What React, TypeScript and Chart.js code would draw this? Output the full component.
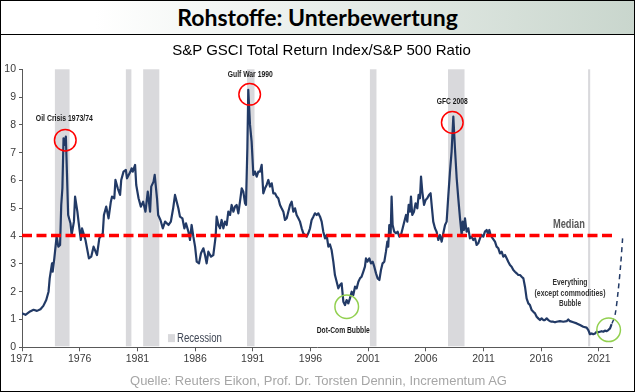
import { useEffect, useRef } from "react";
import { Chart, registerables } from "chart.js";

Chart.register(...registerables);

// ---------- DATA ----------
const years = [
  1971.0, 1971.3, 1971.7, 1972.0, 1972.3, 1972.6, 1972.85, 1973.1, 1973.3, 1973.4,
  1973.6, 1973.66, 1973.8, 1974.0, 1974.15, 1974.3, 1974.4, 1974.5, 1974.6, 1974.7,
  1974.8, 1974.9, 1975.0, 1975.2, 1975.3, 1975.5, 1975.6, 1975.8, 1975.9, 1976.1,
  1976.2, 1976.5, 1976.8, 1977.0, 1977.2, 1977.5, 1977.7, 1978.0, 1978.1, 1978.3,
  1978.5, 1978.7, 1978.8, 1979.0, 1979.1, 1979.3, 1979.5, 1979.6, 1979.8, 1980.0,
  1980.1, 1980.4, 1980.5, 1980.6, 1980.8, 1980.9, 1981.1, 1981.3, 1981.5, 1981.7,
  1981.9, 1982.1, 1982.2, 1982.4, 1982.5, 1982.7, 1982.8, 1983.0, 1983.2, 1983.4,
  1983.7, 1983.9, 1984.1, 1984.26, 1984.55, 1984.69, 1984.9, 1985.07, 1985.21, 1985.42,
  1985.56, 1985.7, 1985.85, 1986.0, 1986.14, 1986.34, 1986.51, 1986.72, 1986.86, 1987.0,
  1987.15, 1987.38, 1987.58, 1987.78, 1987.87, 1988.02, 1988.16, 1988.3, 1988.45, 1988.59,
  1988.74, 1988.88, 1989.03, 1989.17, 1989.32, 1989.46, 1989.6, 1989.75, 1989.89, 1990.04,
  1990.18, 1990.33, 1990.41, 1990.53, 1990.61, 1990.76, 1990.9, 1991.05, 1991.19, 1991.34,
  1991.48, 1991.63, 1991.77, 1991.91, 1992.06, 1992.2, 1992.35, 1992.49, 1992.64, 1992.78,
  1992.93, 1993.07, 1993.21, 1993.36, 1993.5, 1993.65, 1993.79, 1993.94, 1994.08, 1994.23,
  1994.37, 1994.51, 1994.66, 1994.8, 1994.95, 1995.09, 1995.24, 1995.38, 1995.53, 1995.67,
  1995.81, 1995.96, 1996.1, 1996.25, 1996.39, 1996.54, 1996.68, 1996.83, 1996.97, 1997.11,
  1997.26, 1997.4, 1997.55, 1997.69, 1997.83, 1997.98, 1998.12, 1998.27, 1998.41, 1998.56,
  1998.7, 1998.85, 1998.99, 1999.13, 1999.28, 1999.42, 1999.57, 1999.71, 1999.86, 2000.0,
  2000.15, 2000.29, 2000.43, 2000.58, 2000.72, 2000.81, 2000.93, 2001.1, 2001.24, 2001.39,
  2001.53, 2001.68, 2001.82, 2001.97, 2002.11, 2002.25, 2002.4, 2002.54, 2002.66, 2002.74,
  2002.83, 2002.95, 2003.03, 2003.12, 2003.26, 2003.41, 2003.55, 2003.7, 2003.84, 2003.99,
  2004.13, 2004.28, 2004.39, 2004.51, 2004.62, 2004.71, 2004.82, 2004.97, 2005.11, 2005.26,
  2005.37, 2005.49, 2005.58, 2005.69, 2005.84, 2005.98, 2006.12, 2006.27, 2006.41, 2006.53,
  2006.64, 2006.79, 2006.93, 2007.08, 2007.22, 2007.37, 2007.51, 2007.66, 2007.8, 2007.94,
  2008.09, 2008.23, 2008.38, 2008.52, 2008.67, 2008.81, 2008.96, 2009.1, 2009.19, 2009.3,
  2009.39, 2009.53, 2009.68, 2009.82, 2009.97, 2010.11, 2010.26, 2010.4, 2010.54, 2010.69,
  2010.83, 2010.98, 2011.12, 2011.27, 2011.41, 2011.5, 2011.61, 2011.79, 2011.99, 2012.13,
  2012.28, 2012.42, 2012.57, 2012.71, 2012.86, 2013.0, 2013.14, 2013.29, 2013.43, 2013.58,
  2013.72, 2013.87, 2014.01, 2014.16, 2014.3, 2014.45, 2014.59, 2014.73, 2014.88, 2015.02,
  2015.17, 2015.31, 2015.46, 2015.6, 2015.74, 2015.89, 2016.03, 2016.18, 2016.32, 2016.47,
  2016.61, 2016.76, 2016.9, 2017.04, 2017.19, 2017.33, 2017.62, 2017.91, 2018.2, 2018.34,
  2018.49, 2018.78, 2019.07, 2019.36, 2019.64, 2019.93, 2020.08, 2020.22, 2020.37, 2020.51,
  2020.66, 2020.8, 2020.94, 2021.09, 2021.23, 2021.38, 2021.52, 2021.67, 2021.81, 2021.96,
  2022.1,
];

const ratio = [
  1.22, 1.17, 1.29, 1.35, 1.31, 1.37, 1.49, 1.7, 2.0, 2.48,
  3.02, 2.72, 3.2, 3.98, 3.62, 3.68, 5.12, 5.72, 7.52, 7.28,
  7.58, 6.2, 4.76, 4.46, 4.04, 4.52, 5.42, 4.88, 4.52, 3.86,
  4.28, 3.86, 3.2, 3.26, 3.62, 3.32, 3.92, 4.1, 4.76, 5.06,
  4.64, 5.24, 5.42, 5.36, 6.02, 5.72, 5.48, 6.02, 6.32, 6.38,
  6.08, 6.32, 6.44, 6.32, 6.56, 5.84, 5.36, 5.06, 5.24, 4.88,
  5.6, 4.88, 5.78, 5.96, 6.2, 5.36, 4.76, 4.58, 4.28, 4.52,
  4.4, 4.52, 5.0, 5.48, 5.0, 4.7, 4.64, 4.28, 4.46, 4.16,
  3.86, 4.4, 3.98, 3.62, 3.08, 3.02, 3.38, 3.56, 3.32, 3.02,
  3.44, 3.26, 3.32, 3.98, 4.7, 4.4, 4.28, 4.58, 4.28, 4.52,
  4.4, 4.88, 4.76, 5.12, 4.88, 5.06, 5.12, 4.82, 5.24, 5.72,
  5.6, 5.18, 5.12, 7.16, 9.26, 8.0, 7.4, 6.2, 6.32, 6.14,
  6.32, 6.32, 6.56, 5.54, 5.72, 5.84, 6.02, 5.78, 5.9, 5.54,
  5.54, 5.42, 5.36, 5.12, 5.0, 4.88, 4.58, 4.64, 4.88, 5.12,
  5.24, 4.88, 5.0, 4.76, 4.64, 4.52, 4.28, 4.1, 4.04, 3.98,
  4.1, 4.28, 4.58, 4.7, 4.82, 4.76, 4.82, 4.7, 4.52, 4.16,
  3.92, 4.04, 3.62, 3.7, 3.5, 3.08, 2.6, 2.36, 2.12, 2.24,
  2.3, 1.64, 1.52, 1.7, 1.58, 1.76, 2.0, 1.88, 2.18, 2.12,
  2.36, 2.48, 2.54, 2.72, 2.9, 3.2, 3.08, 3.2, 3.02, 3.08,
  2.9, 2.66, 2.48, 2.42, 2.78, 3.02, 3.08, 3.44, 3.8, 3.62,
  4.4, 4.1, 5.42, 4.4, 4.16, 4.1, 4.16, 3.98, 4.04, 4.28,
  4.52, 4.76, 4.52, 5.12, 4.88, 5.42, 4.76, 4.88, 5.18, 5.0,
  5.48, 5.36, 6.14, 5.6, 5.12, 5.3, 5.36, 5.48, 5.54, 5.0,
  4.52, 4.28, 4.16, 3.86, 4.04, 3.8, 4.1, 4.4, 4.52, 5.42,
  6.32, 7.04, 8.3, 7.16, 6.08, 5.36, 4.64, 4.04, 4.52, 4.22,
  4.64, 4.16, 4.28, 3.92, 3.98, 3.86, 3.92, 3.68, 3.74, 3.92,
  4.04, 3.98, 4.16, 4.22, 4.04, 4.22, 4.04, 3.92, 3.8, 3.62,
  3.56, 3.38, 3.44, 3.26, 3.32, 3.2, 3.08, 2.96, 2.9, 2.78,
  2.72, 2.66, 2.6, 2.6, 2.54, 2.48, 2.18, 1.76, 1.58, 1.52,
  1.34, 1.28, 1.22, 1.1, 1.04, 0.98, 1.04, 0.98, 0.98, 1.04,
  0.98, 0.94, 0.92, 0.92, 0.9, 0.92, 0.94, 0.92, 0.94, 1.0,
  0.94, 0.9, 0.86, 0.8, 0.74, 0.71, 0.62, 0.47, 0.5, 0.47,
  0.5, 0.56, 0.54, 0.56, 0.58, 0.56, 0.6, 0.58, 0.62, 0.68,
  0.83,
];

const projectionYears = [2022.1, 2022.39, 2022.67, 2022.88, 2023.05];
const projectionValues = [0.83, 1.15, 2.05, 2.96, 3.92];

const medianValue = 4.02;

const recessionStart = [1973.85, 1980.0, 1981.5, 1990.5, 2001.15, 2007.92, 2020.06];
const recessionEnd = [1975.12, 1980.48, 1982.9, 1991.15, 2001.72, 2009.35, 2020.24];

const xTickYears = [1971, 1976, 1981, 1986, 1991, 1996, 2001, 2006, 2011, 2016, 2021];
const yTickValues = [0, 1, 2, 3, 4, 5, 6, 7, 8, 9, 10];
const xAxisEnd = 2022.2;

const eventLabels = ["Oil Crisis 1973/74", "Gulf War 1990", "GFC 2008", "Dot-Com Bubble"];
const eventLabelYears = [1974.67, 1990.78, 2008.28, 1998.84];
const eventLabelValues = [8.24, 9.83, 8.84, 0.62];

const redCircleYears = [1974.75, 1990.73, 2008.29];
const redCircleValues = [7.45, 9.1, 8.09];

const greenCircleYears = [1999.14, 2021.84];
const greenCircleValues = [1.46, 0.63];

const bubbleLines = ["Everything", "(except commodities)", "Bubble"];
const bubbleYear = 2018.49;
const bubbleValues = [2.34, 1.93, 1.57];

const medianLabel = "Median";
const medianLabelYear = 2018.4;
const medianLabelValue = 4.42;

const legendLabel = "Recession";
const legendYear = 1983.65;
const legendValue = 0.33;

const titleText = "Rohstoffe: Unterbewertung";
const subtitleText = "S&P GSCI Total Return Index/S&P 500 Ratio";
const sourceText = "Quelle: Reuters Eikon, Prof. Dr. Torsten Dennin, Incrementum AG";

// ---------- STYLE ----------
const NARROW = "'Liberation Sans Narrow', 'Arial Narrow', 'Liberation Sans', Arial, sans-serif";
const SANS = "'Liberation Sans', Arial, sans-serif";
const NAVY = "#223a66";
const BAND = "#d9d9dc";

const eventWidths = [57, 45, 31, 53];
const bubbleWidths = [35, 71, 22];

const overlayPlugin = {
  id: "overlayPlugin",
  beforeDatasetsDraw(chart: any) {
    const { ctx, chartArea, scales } = chart;
    const xs = scales.x;
    ctx.save();
    ctx.fillStyle = BAND;
    recessionStart.forEach((s, i) => {
      const x0 = xs.getPixelForValue(s);
      const x1 = xs.getPixelForValue(recessionEnd[i]);
      ctx.fillRect(x0, chartArea.top, x1 - x0, chartArea.bottom - chartArea.top - 1);
    });
    ctx.restore();
  },
  afterDatasetsDraw(chart: any) {
    const { ctx, scales } = chart;
    const xs = scales.x;
    const ys = scales.y;
    ctx.save();
    ctx.textAlign = "center";
    ctx.textBaseline = "middle";

    // event labels
    ctx.fillStyle = "#1a1a1a";
    ctx.font = `bold 9.5px ${NARROW}`;
    eventLabels.forEach((t, i) => {
      ctx.fillText(t, xs.getPixelForValue(eventLabelYears[i]), ys.getPixelForValue(eventLabelValues[i]), eventWidths[i]);
    });

    // bubble text
    ctx.fillStyle = "#333333";
    bubbleLines.forEach((t, i) => {
      ctx.fillText(t, xs.getPixelForValue(bubbleYear), ys.getPixelForValue(bubbleValues[i]), bubbleWidths[i]);
    });

    // median label
    ctx.fillStyle = "#595959";
    ctx.font = `bold 13px ${NARROW}`;
    ctx.fillText(medianLabel, xs.getPixelForValue(medianLabelYear), ys.getPixelForValue(medianLabelValue), 32);

    // circles
    ctx.lineWidth = 1.5;
    ctx.strokeStyle = "#ff0000";
    redCircleYears.forEach((yr, i) => {
      ctx.beginPath();
      ctx.arc(xs.getPixelForValue(yr), ys.getPixelForValue(redCircleValues[i]), 10.8, 0, Math.PI * 2);
      ctx.stroke();
    });
    ctx.strokeStyle = "#92d050";
    greenCircleYears.forEach((yr, i) => {
      ctx.beginPath();
      ctx.arc(xs.getPixelForValue(yr), ys.getPixelForValue(greenCircleValues[i]), 11.8, 0, Math.PI * 2);
      ctx.stroke();
    });

    // recession legend
    const lx = xs.getPixelForValue(legendYear);
    const ly = ys.getPixelForValue(legendValue);
    ctx.fillStyle = BAND;
    ctx.fillRect(lx, ly - 4, 7, 8);
    ctx.fillStyle = "#3f4654";
    ctx.font = `12.5px ${NARROW}`;
    ctx.textAlign = "left";
    ctx.fillText(legendLabel, lx + 9, ly, 45);

    ctx.restore();
  },
};

export default function App() {
  const canvasRef = useRef<HTMLCanvasElement | null>(null);

  useEffect(() => {
    const canvas = canvasRef.current;
    if (!canvas) return;
    const tickFont = { family: NARROW, size: 10.5 };
    // projection points listed from the far end back, so every point is kept beyond the axis end
    const projectionPoints = projectionYears
      .map((yr, i) => ({ x: yr, y: projectionValues[i] }))
      .reverse();
    const chart = new Chart(canvas, {
      type: "line",
      data: {
        datasets: [
          {
            data: [
              { x: xTickYears[0], y: medianValue },
              { x: xAxisEnd, y: medianValue },
            ],
            borderColor: "#ff0000",
            borderWidth: 3.5,
            borderDash: [10, 4.5],
            pointRadius: 0,
            fill: false,
          },
          {
            data: years.map((yr, i) => ({ x: yr, y: ratio[i] })),
            borderColor: NAVY,
            borderWidth: 2.2,
            pointRadius: 0,
            tension: 0,
            fill: false,
            borderJoinStyle: "round",
          },
          {
            data: projectionPoints,
            borderColor: NAVY,
            borderWidth: 1.5,
            borderDash: [5, 4],
            pointRadius: 0,
            tension: 0.3,
            fill: false,
            clip: false,
          },
        ],
      },
      options: {
        animation: false,
        responsive: false,
        maintainAspectRatio: false,
        events: [],
        layout: { padding: { top: 69.3, right: 22.2, left: 0, bottom: 0 } },
        plugins: {
          legend: { display: false },
          tooltip: { enabled: false },
          title: { display: false },
        },
        scales: {
          x: {
            type: "linear",
            min: xTickYears[0],
            max: xAxisEnd,
            afterBuildTicks: (axis: any) => {
              axis.ticks = xTickYears.map((v) => ({ value: v }));
            },
            afterFit: (axis: any) => {
              axis.height = 44.7;
            },
            ticks: {
              callback: (v: any) => String(v),
              font: tickFont,
              color: "#3a3a3a",
              padding: 2,
              maxRotation: 0,
              autoSkip: false,
            },
            grid: { drawOnChartArea: false, drawTicks: true, tickLength: 4, color: "#595959" },
            border: { display: true, color: "#595959", width: 1 },
          },
          y: {
            type: "linear",
            min: 0,
            max: 10,
            afterBuildTicks: (axis: any) => {
              axis.ticks = yTickValues.map((v) => ({ value: v }));
            },
            afterFit: (axis: any) => {
              axis.width = 22;
            },
            ticks: {
              callback: (v: any) => String(v),
              font: tickFont,
              color: "#3a3a3a",
              padding: 3,
            },
            grid: { drawOnChartArea: false, drawTicks: true, tickLength: 3, color: "#595959" },
            border: { display: true, color: "#595959", width: 1 },
          },
        },
      },
      plugins: [overlayPlugin],
    } as any);
    return () => chart.destroy();
  }, []);

  return (
    <div
      style={{
        position: "absolute",
        left: 0,
        top: 0,
        width: 635,
        height: 392,
        background: "#ffffff",
        overflow: "hidden",
      }}
    >
      <canvas
        ref={canvasRef}
        width={635}
        height={392}
        style={{ position: "absolute", left: 0, top: 0, width: 635, height: 392 }}
      />
      <div
        style={{
          position: "absolute",
          left: 0,
          top: 0,
          width: 635,
          height: 35,
          boxSizing: "border-box",
          borderBottom: "1px solid #000",
          background: "linear-gradient(to right, #ffffff 15%, #c9d6cd 100%)",
          display: "flex",
          alignItems: "center",
          justifyContent: "center",
          fontFamily: "Lato, 'Open Sans', sans-serif",
          fontWeight: 700,
          fontSize: 23,
          color: "#000",
        }}
      >
        {titleText}
      </div>
      <div
        style={{
          position: "absolute",
          left: 4,
          top: 41,
          width: 635,
          height: 18,
          lineHeight: "18px",
          textAlign: "center",
          fontFamily: SANS,
          fontSize: 15,
          color: "#000",
        }}
      >
        {subtitleText}
      </div>
      <div
        style={{
          position: "absolute",
          left: 1,
          top: 373,
          width: 635,
          height: 16,
          lineHeight: "16px",
          textAlign: "center",
          fontFamily: SANS,
          fontSize: 13,
          color: "#a6a6a6",
        }}
      >
        {sourceText}
      </div>
      <div
        style={{
          position: "absolute",
          left: 0,
          top: 0,
          width: 635,
          height: 392,
          boxSizing: "border-box",
          border: "1px solid #000",
          pointerEvents: "none",
        }}
      />
    </div>
  );
}
